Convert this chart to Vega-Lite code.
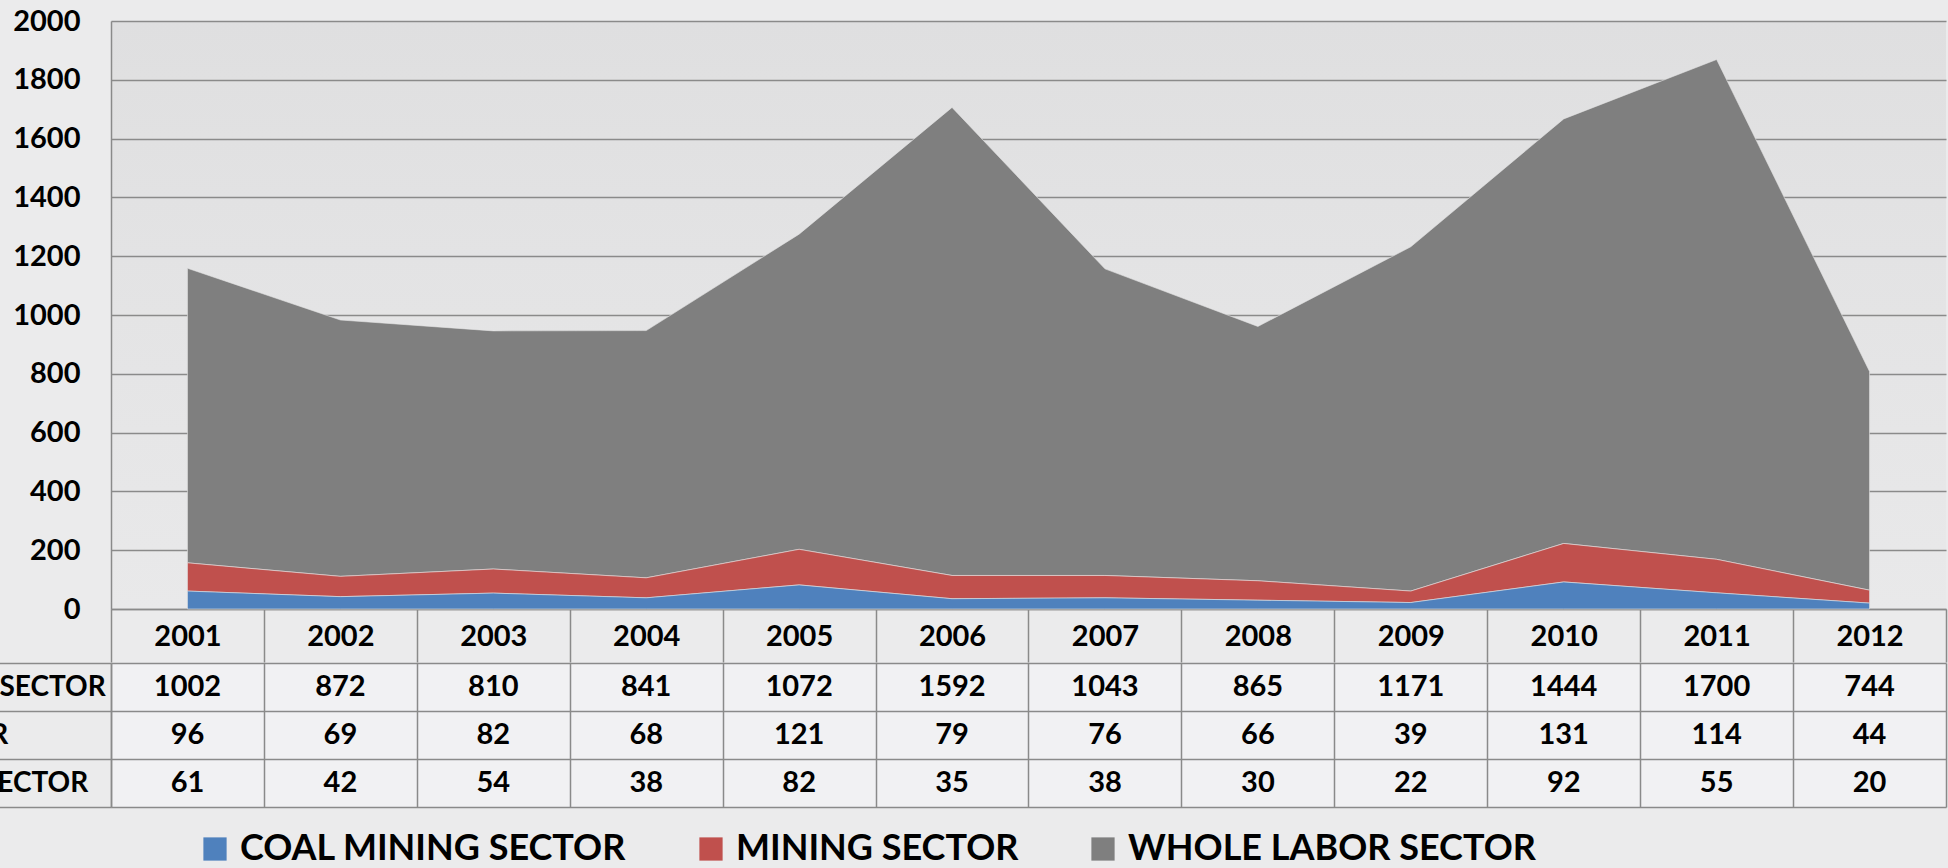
{
  "$schema": "https://vega.github.io/schema/vega-lite/v6.json",
  "background": "#ebebec",
  "padding": {"left": -260, "top": 7, "right": 2, "bottom": 6},
  "config": {
    "font": "Lato",
    "view": {"stroke": null},
    "axis": {"labelFont": "Lato", "labelFontWeight": "bold", "labelColor": "#000000", "labelFontSize": 29, "title": null}
  },
  "data": {
    "values": [
      {"year": "2001", "sector": "WHOLE LABOR SECTOR", "value": 1002},
      {"year": "2002", "sector": "WHOLE LABOR SECTOR", "value": 872},
      {"year": "2003", "sector": "WHOLE LABOR SECTOR", "value": 810},
      {"year": "2004", "sector": "WHOLE LABOR SECTOR", "value": 841},
      {"year": "2005", "sector": "WHOLE LABOR SECTOR", "value": 1072},
      {"year": "2006", "sector": "WHOLE LABOR SECTOR", "value": 1592},
      {"year": "2007", "sector": "WHOLE LABOR SECTOR", "value": 1043},
      {"year": "2008", "sector": "WHOLE LABOR SECTOR", "value": 865},
      {"year": "2009", "sector": "WHOLE LABOR SECTOR", "value": 1171},
      {"year": "2010", "sector": "WHOLE LABOR SECTOR", "value": 1444},
      {"year": "2011", "sector": "WHOLE LABOR SECTOR", "value": 1700},
      {"year": "2012", "sector": "WHOLE LABOR SECTOR", "value": 744},
      {"year": "2001", "sector": "MINING SECTOR", "value": 96},
      {"year": "2002", "sector": "MINING SECTOR", "value": 69},
      {"year": "2003", "sector": "MINING SECTOR", "value": 82},
      {"year": "2004", "sector": "MINING SECTOR", "value": 68},
      {"year": "2005", "sector": "MINING SECTOR", "value": 121},
      {"year": "2006", "sector": "MINING SECTOR", "value": 79},
      {"year": "2007", "sector": "MINING SECTOR", "value": 76},
      {"year": "2008", "sector": "MINING SECTOR", "value": 66},
      {"year": "2009", "sector": "MINING SECTOR", "value": 39},
      {"year": "2010", "sector": "MINING SECTOR", "value": 131},
      {"year": "2011", "sector": "MINING SECTOR", "value": 114},
      {"year": "2012", "sector": "MINING SECTOR", "value": 44},
      {"year": "2001", "sector": "COAL MINING SECTOR", "value": 61},
      {"year": "2002", "sector": "COAL MINING SECTOR", "value": 42},
      {"year": "2003", "sector": "COAL MINING SECTOR", "value": 54},
      {"year": "2004", "sector": "COAL MINING SECTOR", "value": 38},
      {"year": "2005", "sector": "COAL MINING SECTOR", "value": 82},
      {"year": "2006", "sector": "COAL MINING SECTOR", "value": 35},
      {"year": "2007", "sector": "COAL MINING SECTOR", "value": 38},
      {"year": "2008", "sector": "COAL MINING SECTOR", "value": 30},
      {"year": "2009", "sector": "COAL MINING SECTOR", "value": 22},
      {"year": "2010", "sector": "COAL MINING SECTOR", "value": 92},
      {"year": "2011", "sector": "COAL MINING SECTOR", "value": 55},
      {"year": "2012", "sector": "COAL MINING SECTOR", "value": 20}
    ]
  },
  "spacing": -14,
  "resolve": {"scale": {"color": "shared"}, "legend": {"color": "shared"}},
  "vconcat": [
    {
      "width": 1835,
      "height": 588,
      "view": {
        "fill": {
          "gradient": "linear", "x1": 0, "y1": 0, "x2": 0, "y2": 1,
          "stops": [{"offset": 0, "color": "#dfdfe0"}, {"offset": 1, "color": "#e9e9ea"}]
        }
      },
      "mark": {"type": "area", "stroke": "#e4e4e4", "strokeWidth": 0.6},
      "encoding": {
        "x": {
          "field": "year", "type": "ordinal",
          "scale": {"type": "band", "paddingInner": 0, "paddingOuter": 0},
          "bandPosition": 0.5,
          "axis": {
            "orient": "bottom", "tickBand": "extent", "tickSize": 53, "tickColor": "#8a8a8a", "tickWidth": 1.5,
            "domain": true, "domainColor": "#8a8a8a", "domainWidth": 1.5,
            "labelAngle": 0, "labelBaseline": "middle", "labelPadding": -26, "grid": false
          }
        },
        "y": {
          "field": "value", "type": "quantitative", "stack": "zero",
          "scale": {"domain": [0, 2000]},
          "axis": {
            "values": [0, 200, 400, 600, 800, 1000, 1200, 1400, 1600, 1800, 2000],
            "format": "d",
            "grid": true, "gridColor": "#8a8a8a", "gridWidth": 1.5, "ticks": false,
            "domain": true, "domainColor": "#8a8a8a", "domainWidth": 1.5, "labelPadding": 31
          }
        },
        "color": {
          "field": "sector", "type": "nominal",
          "scale": {"domain": ["COAL MINING SECTOR", "MINING SECTOR", "WHOLE LABOR SECTOR"], "range": ["#4F81BD", "#C0504D", "#7F7F7F"]},
          "legend": {
            "title": null, "orient": "none", "legendX": 86, "legendY": 810, "direction": "horizontal",
            "symbolType": "square", "symbolSize": 540,
            "symbolStrokeWidth": 0, "labelFontSize": 36, "labelFont": "Lato", "labelFontWeight": "bold", "labelColor": "#000000",
            "labelOffset": 7, "columnPadding": 66, "labelLimit": 0
          }
        },
        "order": {"field": "sector", "sort": "ascending"}
      }
    },
    {
      "width": 1835,
      "height": 144,
      "view": {"fill": "#f1f1f3"},
      "mark": {"type": "text", "fontSize": 29, "fontWeight": "bold", "font": "Lato", "color": "#000000"},
      "encoding": {
        "x": {
          "field": "year", "type": "ordinal",
          "scale": {"type": "band", "paddingInner": 0, "paddingOuter": 0},
          "axis": {"labels": false, "ticks": false, "domain": false, "grid": true, "tickBand": "extent", "gridColor": "#8a8a8a", "gridWidth": 1.5}
        },
        "y": {
          "field": "sector", "type": "nominal",
          "sort": ["WHOLE LABOR SECTOR", "MINING SECTOR", "COAL MINING SECTOR"],
          "scale": {"type": "band", "paddingInner": 0, "paddingOuter": 0},
          "axis": {
            "tickBand": "extent", "grid": true, "gridColor": "#8a8a8a", "gridWidth": 1.5,
            "ticks": true, "tickSize": 370, "tickColor": "#8a8a8a", "tickWidth": 1.5,
            "domain": true, "domainColor": "#8a8a8a", "domainWidth": 1.5,
            "labelAlign": "left", "labelPadding": -47, "labelLimit": 0, "labelFontSize": 28
          }
        },
        "text": {"field": "value", "type": "quantitative", "format": "d"}
      }
    }
  ]
}
